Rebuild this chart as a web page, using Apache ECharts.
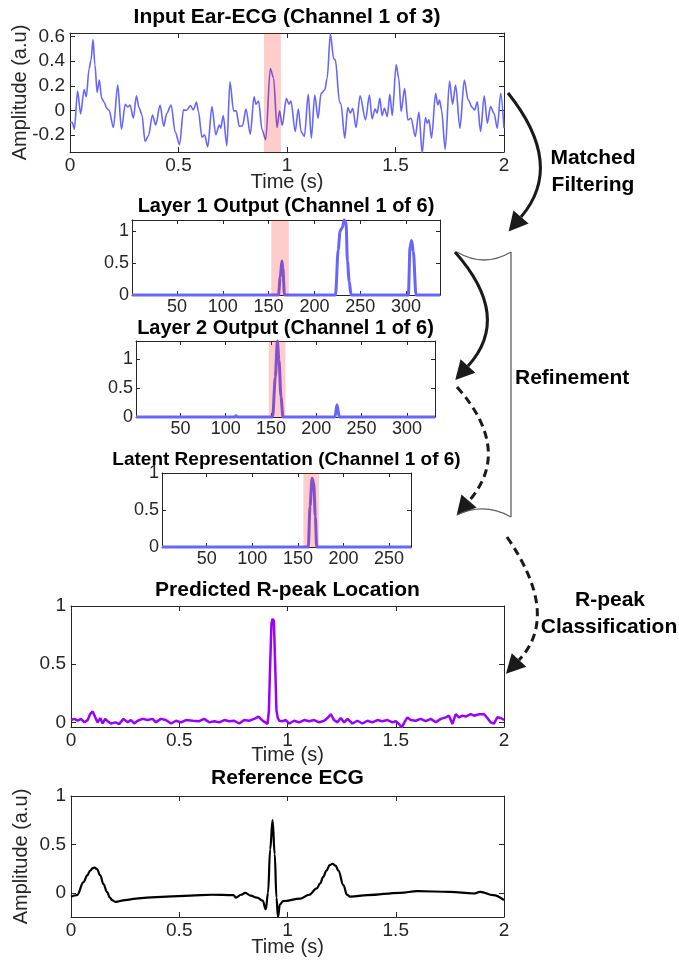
<!DOCTYPE html>
<html>
<head>
<meta charset="utf-8">
<script src="https://cdn.jsdelivr.net/npm/echarts@6/dist/echarts.min.js"></script>
<style>
  body { margin: 0; background: #fff; }
  #chart { width: 679px; height: 962px; }
</style>
</head>
<body>
<div id="chart"></div>
<script>
// input ear-ECG, channel 1 (time in s)
var earT = [0, 0.011, 0.02, 0.035, 0.049, 0.065, 0.075, 0.088, 0.097, 0.106,
  0.115, 0.125, 0.135, 0.146, 0.158, 0.169, 0.18, 0.2, 0.22, 0.237,
  0.255, 0.266, 0.277, 0.292, 0.306, 0.318, 0.331, 0.346, 0.362, 0.38,
  0.395, 0.415, 0.432, 0.446, 0.466, 0.485, 0.505, 0.523, 0.538, 0.555,
  0.568, 0.583, 0.592, 0.608, 0.62, 0.635, 0.654, 0.672, 0.688, 0.695,
  0.706, 0.723, 0.737, 0.754, 0.766, 0.78, 0.795, 0.811, 0.831, 0.848,
  0.857, 0.869, 0.885, 0.902, 0.923, 0.938, 0.954, 0.966, 0.978, 0.997,
  1.009, 1.018, 1.038, 1.052, 1.065, 1.08, 1.098, 1.112, 1.128, 1.143,
  1.157, 1.174, 1.185, 1.2, 1.215, 1.223, 1.242, 1.249, 1.266, 1.28,
  1.292, 1.303, 1.318, 1.337, 1.362, 1.38, 1.392, 1.406, 1.415, 1.428,
  1.438, 1.449, 1.462, 1.474, 1.485, 1.503, 1.515, 1.526, 1.542, 1.557,
  1.572, 1.591, 1.608, 1.623, 1.638, 1.646, 1.654, 1.666, 1.685, 1.695,
  1.703, 1.712, 1.729, 1.749, 1.763, 1.777, 1.797, 1.817, 1.835, 1.854,
  1.865, 1.877, 1.892, 1.909, 1.923, 1.938, 1.954, 1.969, 1.985, 2.0];
var earV = [-0.10, -0.10, -0.154, 0.157, -0.03, 0.17, 0.11, 0.34, 0.41, 0.576,
  0.37, 0.146, 0.246, 0.097, 0.065, 0.016, 0.0, -0.14, 0.205, -0.154,
  0.049, 0.027, 0.043, -0.065, 0.119, 0.022, -0.032, -0.254, -0.205, -0.038,
  -0.12, 0.043, -0.132, -0.024, 0.043, -0.178, -0.28, 0.003, 0.0, 0.038,
  0.003, 0.065, -0.01, -0.22, -0.2, -0.297, 0.03, -0.2, -0.12, -0.146,
  -0.043, -0.29, 0.232, -0.005, -0.005, -0.13, -0.127, 0.011, -0.195, 0.11,
  0.049, 0.076, -0.16, -0.24, 0.34, 0.265, -0.14, -0.005, -0.124, 0.097,
  0.049, 0.076, -0.173, 0.011, -0.173, -0.214, 0.13, -0.227, 0.124, -0.065,
  0.138, 0.165, 0.26, 0.624, 0.42, 0.41, 0.07, 0.049, -0.227, 0.022,
  -0.024, 0.016, -0.14, 0.119, -0.078, 0.124, -0.07, 0.011, -0.024, 0.097,
  -0.043, 0.016, -0.051, 0.13, -0.043, 0.373, 0.26, -0.01, 0.178, -0.078,
  -0.065, -0.214, -0.016, -0.35, -0.06, -0.105, -0.078, -0.227, 0.138, 0.043,
  0.084, 0.003, -0.32, 0.238, 0.049, 0.205, -0.146, 0.246, 0.084, 0.022,
  0.003, 0.07, -0.173, 0.119, -0.105, 0.03, -0.024, -0.146, 0.138, -0.146];
var earBand = [0.894, 0.972];

// layer outputs (sample index)
var layer1X = [1, 160.8, 162.7, 164.5, 165.6, 167.3, 223, 226, 228, 230.5, 232.4, 234.5, 236, 238, 240, 302.5, 304.3, 306, 307.9, 310.8, 337];
var layer1Y = [0, 0, 0.28, 0.53, 0.42, 0, 0, 0.71, 1.0, 1.05, 1.17, 1.13, 0.53, 0.21, 0, 0, 0.74, 0.85, 0.68, 0, 0];
var layer1Band = [153, 172];

var layer2X = [1, 110, 111.4, 113, 151.8, 154.8, 157, 158.8, 161, 163.2, 220.6, 222.8, 225.4, 331];
var layer2Y = [0, 0, 0.02, 0, 0, 0.69, 1.31, 0.98, 0.35, 0, 0, 0.21, 0, 0];
var layer2Band = [147.5, 166];

var latentX = [1, 161.4, 163.3, 165.5, 167.4, 169.1, 170.6, 274];
var latentY = [0, 0, 0.55, 0.93, 0.86, 0.41, 0, 0];
var latentBand = [156, 173];

// predicted R-peak probability
var predT = [0, 0.015, 0.031, 0.046, 0.062, 0.077, 0.088, 0.1, 0.112, 0.123,
  0.135, 0.146, 0.158, 0.169, 0.185, 0.205, 0.223, 0.242, 0.262, 0.277,
  0.292, 0.308, 0.331, 0.354, 0.377, 0.392, 0.415, 0.438, 0.462, 0.485,
  0.508, 0.531, 0.562, 0.592, 0.615, 0.638, 0.662, 0.685, 0.708, 0.731,
  0.754, 0.777, 0.8, 0.823, 0.846, 0.866, 0.885, 0.897, 0.908, 0.914,
  0.92, 0.926, 0.931, 0.937, 0.943, 0.949, 0.955, 0.962, 0.977, 0.992,
  1.008, 1.031, 1.054, 1.077, 1.1, 1.123, 1.146, 1.169, 1.185, 1.2,
  1.215, 1.231, 1.246, 1.262, 1.277, 1.3, 1.323, 1.346, 1.369, 1.392,
  1.415, 1.438, 1.462, 1.485, 1.5, 1.515, 1.528, 1.543, 1.554, 1.569,
  1.592, 1.615, 1.638, 1.662, 1.685, 1.708, 1.731, 1.746, 1.762, 1.777,
  1.792, 1.808, 1.823, 1.846, 1.862, 1.885, 1.908, 1.923, 1.938, 1.954,
  1.969, 1.985, 2.0];
var predV = [0.02, 0.03, 0.014, 0.03, 0, 0.02, 0.07, 0.094, 0.043, 0,
  0.037, -0.01, 0.03, 0.01, -0.01, 0, -0.014, 0.03, 0, 0.02,
  -0.01, 0.014, 0.03, 0.02, 0.03, 0, 0.03, 0.02, -0.01, 0.014,
  0, 0.02, 0.014, 0.01, 0.03, 0, 0.01, 0, 0.02, 0.01,
  0.014, -0.01, 0.02, 0.014, 0.03, 0.05, 0.014, 0, -0.014, 0.1,
  0.5, 0.85, 0.89, 0.87, 0.5, 0.1, 0.04, 0.014, 0.01, 0.02,
  -0.01, 0.014, 0, 0.02, 0.01, 0.02, 0, 0.014, 0.037, 0.07,
  0.02, 0, 0.037, 0, 0.03, -0.01, 0.014, -0.01, 0.014, 0,
  0.02, 0.01, 0.02, 0, 0.01, -0.014, -0.043, 0.01, 0.043, 0.02,
  0.014, 0.03, 0.01, 0.03, 0, 0.03, 0.043, 0.057, -0.014, 0.07,
  0.043, 0.057, 0.05, 0.07, 0.057, 0.07, 0.07, 0.037, 0, -0.01,
  0.043, 0.037, 0.02];

// reference ECG
var refT = [0, 0.028, 0.058, 0.075, 0.089, 0.1, 0.109, 0.12, 0.135, 0.15, 0.166, 0.18, 0.19, 0.205, 0.25,
  0.3, 0.35, 0.443, 0.55, 0.65, 0.75, 0.762, 0.785, 0.805, 0.83,
  0.86, 0.885, 0.9, 0.91, 0.92, 0.931, 0.941, 0.949, 0.956, 0.965,
  0.98, 1.06, 1.1, 1.135, 1.151, 1.165, 1.18, 1.195, 1.208, 1.222, 1.235, 1.258, 1.275, 1.29,
  1.37, 1.52, 1.6, 1.75, 1.86, 1.89, 1.95, 2.0];
var refV = [-0.04, -0.024, 0.11, 0.18, 0.23, 0.255, 0.26, 0.245, 0.18, 0.09, 0.01, -0.05, -0.076, -0.093, -0.075,
  -0.06, -0.05, -0.04, -0.03, -0.02, -0.024, -0.05, -0.02, 0.0, -0.03,
  -0.05, -0.08, -0.17, 0.0, 0.45, 0.75, 0.4, -0.05, -0.25, -0.12,
  -0.086, -0.06, -0.02, 0.045, 0.097, 0.165, 0.23, 0.285, 0.30, 0.28, 0.23, 0.08, -0.02, -0.04,
  -0.024, 0.0, 0.017, 0.01, -0.007, 0.01, -0.024, -0.076];

// tick positions
var timeTicks = [0, 0.5, 1, 1.5, 2];
var earTicks = [-0.2, 0, 0.2, 0.4, 0.6];
var unitTicks = [0, 0.5, 1];
var layerTicks = [50, 100, 150, 200, 250, 300];
var latentTicks = [50, 100, 150, 200, 250];

var FONT = '"Liberation Sans", Arial, Helvetica, sans-serif';
var INK = '#262626';

function pairs(xs, ys) {
  return xs.map(function (x, i) { return [x, ys[i]]; });
}

var grids = [], xAxes = [], yAxes = [], series = [], graphics = [];

// one MATLAB-like boxed axes: bottom/left with labels, top/right ticks only
function addPanel(p) {
  var gi = grids.length;
  grids.push({ left: p.box[0], top: p.box[1], width: p.box[2], height: p.box[3],
    containLabel: false, outerBoundsMode: 'none' });
  var line = { show: true, onZero: false, lineStyle: { color: INK, width: 1 } };
  var tickLen = p.tickLen || 5;
  var fs = p.fontSize || 19;
  function axis(pos, range, ticks, labels, name, gap, margin) {
    return {
      type: 'value', gridIndex: gi, position: pos,
      min: range[0], max: range[1],
      axisLine: line, splitLine: { show: false },
      axisTick: { show: true, inside: true, length: tickLen, customValues: ticks,
        lineStyle: { color: INK, width: 1 } },
      axisLabel: { show: labels, customValues: ticks, color: INK, fontSize: fs,
        fontFamily: FONT, margin: margin },
      name: labels ? name : '', nameLocation: 'middle', nameGap: gap,
      nameMoveOverlap: false,
      nameTextStyle: { color: INK, fontSize: 20, fontFamily: FONT }
    };
  }
  var xi = xAxes.length, yi = yAxes.length;
  xAxes.push(axis('bottom', p.xr, p.xt, true, p.xName, p.xGap || 20, p.xMargin || 4));
  xAxes.push(axis('top', p.xr, p.xt, false));
  yAxes.push(axis('left', p.yr, p.yt, true, p.yName, 40, p.yMargin || 5));
  yAxes.push(axis('right', p.yr, p.yt, false));

  series.push({
    type: 'line', xAxisIndex: xi, yAxisIndex: yi, data: p.data,
    symbol: 'none', smooth: p.smooth || false, smoothMonotone: 'x',
    clip: p.clip !== false, z: 2,
    lineStyle: { color: p.color, width: p.width }
  });
  if (p.band) {
    series.push({
      type: 'line', xAxisIndex: xi, yAxisIndex: yi, data: [],
      symbol: 'none', z: 4,
      markArea: { silent: true, z: 4, itemStyle: { color: 'rgba(255,0,0,0.2)' },
        data: [[{ xAxis: p.band[0] }, { xAxis: p.band[1] }]] }
    });
  }
  graphics.push({
    type: 'text', x: p.box[0] + p.box[2] / 2, y: p.titleY, z: 10,
    style: { text: p.title, font: 'bold ' + (p.titleSize || 21) + 'px ' + FONT,
      fill: '#000', align: 'center', verticalAlign: 'middle' }
  });
}

addPanel({ box: [70, 33, 434, 119], xr: [0, 2], yr: [-0.34, 0.63], xt: timeTicks, yt: earTicks,
  xName: 'Time (s)', yName: 'Amplitude (a.u)', data: pairs(earT, earV), color: '#6666ff',
  width: 1.6, smooth: 0.3, band: earBand, title: 'Input Ear-ECG (Channel 1 of 3)', titleY: 17 });

addPanel({ box: [132, 220, 308, 75], xr: [1, 337], yr: [0, 1.17], xt: layerTicks, yt: unitTicks,
  data: pairs(layer1X, layer1Y), color: '#6666ff', width: 3, smooth: 0.3, clip: false,
  band: layer1Band, title: 'Layer 1 Output (Channel 1 of 6)', titleY: 206, titleSize: 20,
  tickLen: 4, fontSize: 18, xMargin: 3, yMargin: 3 });

addPanel({ box: [136, 341, 299, 76], xr: [1, 331], yr: [0, 1.31], xt: layerTicks, yt: unitTicks,
  data: pairs(layer2X, layer2Y), color: '#6666ff', width: 3, smooth: 0.3, clip: false,
  band: layer2Band, title: 'Layer 2 Output (Channel 1 of 6)', titleY: 328, titleSize: 20,
  tickLen: 4, fontSize: 18, xMargin: 3, yMargin: 3 });

addPanel({ box: [162, 473, 249, 74], xr: [1, 274], yr: [0, 1], xt: latentTicks, yt: unitTicks,
  data: pairs(latentX, latentY), color: '#6666ff', width: 3, smooth: 0.3, clip: false,
  band: latentBand, title: 'Latent Representation (Channel 1 of 6)', titleY: 460, titleSize: 19,
  tickLen: 4, fontSize: 18, xMargin: 3, yMargin: 3 });

addPanel({ box: [71, 606, 433, 121], xr: [0, 2], yr: [-0.04, 1], xt: timeTicks, yt: unitTicks,
  xName: 'Time (s)', xGap: 18, data: pairs(predT, predV), color: '#9900ff', width: 2.5,
  title: 'Predicted R-peak Location', titleY: 590 });

addPanel({ box: [71, 796, 433, 121], xr: [0, 2], yr: [-0.25, 1], xt: timeTicks, yt: unitTicks,
  xName: 'Time (s)', yName: 'Amplitude (a.u)', data: pairs(refT, refV), color: '#000',
  width: 2.2, smooth: 0.4, title: 'Reference ECG', titleY: 778 });

// flow annotations
var ARROW = '#1a1a1a';
function arrow(p0, mid, p2, dashed) {
  var c = [2 * mid[0] - (p0[0] + p2[0]) / 2, 2 * mid[1] - (p0[1] + p2[1]) / 2];
  var dx = p2[0] - c[0], dy = p2[1] - c[1], n = Math.sqrt(dx * dx + dy * dy);
  dx /= n; dy /= n;
  var L = 19, W = 10;
  graphics.push({
    type: 'bezierCurve', z: 10,
    shape: { x1: p0[0], y1: p0[1], x2: p2[0], y2: p2[1], cpx1: c[0], cpy1: c[1] },
    style: { stroke: ARROW, lineWidth: 3, fill: null, lineDash: dashed ? [8, 5] : null }
  });
  graphics.push({
    type: 'polygon', z: 10,
    shape: { points: [[p2[0] + dx * L, p2[1] + dy * L],
      [p2[0] - dy * W, p2[1] + dx * W], [p2[0] + dy * W, p2[1] - dx * W]] },
    style: { fill: ARROW }
  });
}
arrow([508, 93], [540, 160], [521, 217], false);
arrow([455, 252], [487, 313], [468, 366], false);
arrow([457, 387], [488, 447], [469, 501], true);
arrow([507, 537], [537, 607], [519, 660], true);

// refinement bracket
var BR = '#606060';
graphics.push({ type: 'bezierCurve', z: 10,
  shape: { x1: 457, y1: 252, x2: 511, y2: 252, cpx1: 484, cpy1: 268 },
  style: { stroke: BR, lineWidth: 1.3, fill: null } });
graphics.push({ type: 'bezierCurve', z: 10,
  shape: { x1: 457, y1: 515, x2: 511, y2: 517, cpx1: 484, cpy1: 502 },
  style: { stroke: BR, lineWidth: 1.3, fill: null } });
graphics.push({ type: 'line', z: 10,
  shape: { x1: 511, y1: 252, x2: 511, y2: 517 },
  style: { stroke: BR, lineWidth: 1.3 } });

function label(text, x, y, align) {
  graphics.push({ type: 'text', x: x, y: y, z: 10,
    style: { text: text, font: 'bold 21px ' + FONT, fill: '#000',
      align: align || 'center', verticalAlign: 'middle' } });
}
label('Matched', 593, 158);
label('Filtering', 593, 185);
label('Refinement', 515, 378, 'left');
label('R-peak', 610, 600);
label('Classification', 609, 627);

var chart = echarts.init(document.getElementById('chart'));
chart.setOption({
  animation: false,
  textStyle: { fontFamily: FONT },
  grid: grids,
  xAxis: xAxes,
  yAxis: yAxes,
  series: series,
  graphic: graphics
});
</script>
</body>
</html>
